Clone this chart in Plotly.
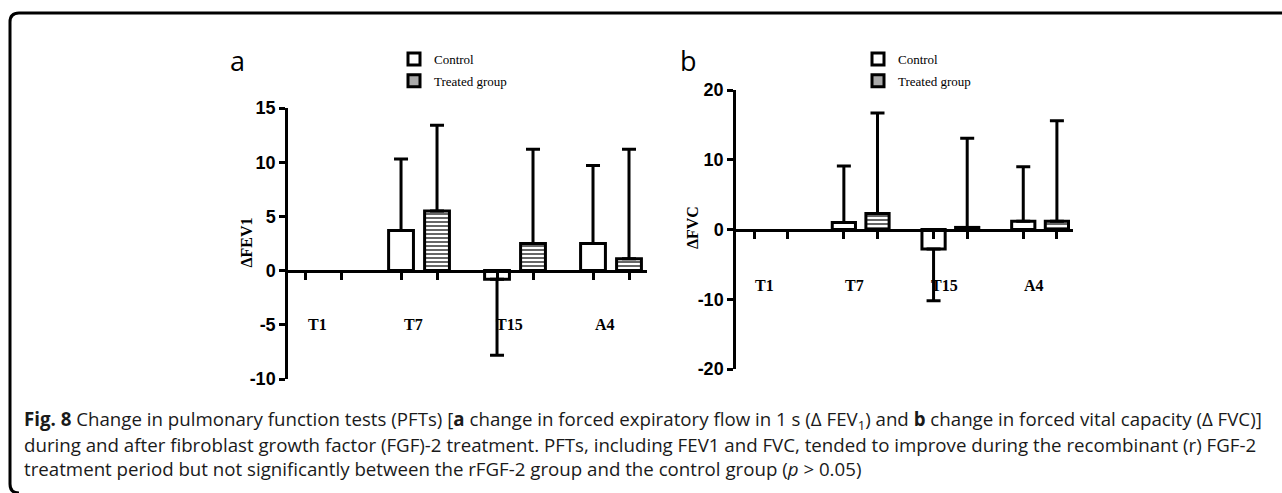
import math
import plotly.graph_objects as go

W, H = 1282, 493

# ---------------- data ----------------
categories = ["T1", "T7", "T15", "A4"]

# Panel a: change in FEV1 (T1 is the baseline: no bar)
fev_control = [None, 3.7, -0.8, 2.5]
fev_control_err = [math.nan, 6.6, 7.0, 7.2]
fev_treated = [None, 5.5, 2.5, 1.1]
fev_treated_err = [math.nan, 7.9, 8.7, 10.1]

# Panel b: change in FVC
fvc_control = [None, 1.0, -2.8, 1.2]
fvc_control_err = [math.nan, 8.1, 7.4, 7.8]
fvc_treated = [None, 2.3, 0.3, 1.2]
fvc_treated_err = [math.nan, 14.4, 12.8, 14.4]

fev_ticks = [-10, -5, 0, 5, 10, 15]
fvc_ticks = [-20, -10, 0, 10, 20]

series_names = ["Control", "Treated group"]
axis_titles = ["ΔFEV1", "ΔFVC"]
panel_letters = ["a", "b"]

caption_lines = [
    "<b>Fig. 8</b> Change in pulmonary function tests (PFTs) [<b>a</b> change in forced expiratory flow in 1 s (Δ FEV<sub>1</sub>) and <b>b</b> change in forced vital capacity (Δ FVC)]",
    "during and after fibroblast growth factor (FGF)-2 treatment. PFTs, including FEV1 and FVC, tended to improve during the recombinant (r) FGF-2",
    "treatment period but not significantly between the rFGF-2 group and the control group (<i>p</i> > 0.05)",
]


# ---------------- helpers ----------------
def px(p):
    return p / W


def py(p):
    return 1 - p / H


def one_sided(values, errs):
    up, down = [], []
    for v, e in zip(values, errs):
        if v is None or math.isnan(e):
            up.append(math.nan)
            down.append(math.nan)
        elif v < 0:
            up.append(0)
            down.append(e)
        else:
            up.append(e)
            down.append(0)
    return up, down


BAR_LINE = dict(color="black", width=3)
PATTERN = dict(shape="-", size=4, solidity=0.45, fgcolor="#555555", bgcolor="white")
ERR_STYLE = dict(color="black", thickness=3, width=7)

fig = go.Figure()

x_idx = list(range(len(categories)))


def add_bars(xa, ya, ctrl, ctrl_err, trt, trt_err):
    up, dn = one_sided(ctrl, ctrl_err)
    fig.add_trace(go.Bar(
        x=x_idx, y=ctrl, name=series_names[0], showlegend=False,
        marker=dict(color="white", line=BAR_LINE),
        error_y=dict(type="data", symmetric=False, array=up, arrayminus=dn, **ERR_STYLE),
        xaxis=xa, yaxis=ya,
    ))
    up, dn = one_sided(trt, trt_err)
    fig.add_trace(go.Bar(
        x=x_idx, y=trt, name=series_names[1], showlegend=False,
        marker=dict(color="white", line=BAR_LINE, pattern=PATTERN),
        error_y=dict(type="data", symmetric=False, array=up, arrayminus=dn, **ERR_STYLE),
        xaxis=xa, yaxis=ya,
    ))


add_bars("x", "y", fev_control, fev_control_err, fev_treated, fev_treated_err)
add_bars("x2", "y2", fvc_control, fvc_control_err, fvc_treated, fvc_treated_err)

# legend-only entries on a hidden subplot
for lg in ["legend", "legend2"]:
    fig.add_trace(go.Bar(x=[None], y=[None], name=series_names[0], legend=lg,
                         legendgroup=lg + "c",
                         marker=dict(color="white", line=dict(color="black", width=3)),
                         xaxis="x3", yaxis="y3"))
    fig.add_trace(go.Bar(x=[None], y=[None], name=series_names[1], legend=lg,
                         legendgroup=lg + "t",
                         marker=dict(color="#aaaaaa", line=dict(color="black", width=3)),
                         xaxis="x3", yaxis="y3"))

BAR_OFF = 0.1875
tickpos = [i + s * BAR_OFF for i in x_idx for s in (-1, 1)]

TICKFONT = dict(family="Liberation Sans, Arial", size=18, color="black")
SERIF_B = dict(family="Liberation Serif, Times New Roman", size=16, color="black")


def xaxis_cfg(dom, rng, pos):
    return dict(domain=dom, range=rng, anchor="free", position=pos,
                showline=True, linecolor="black", linewidth=2.5,
                ticks="outside", ticklen=8, tickwidth=2.5, tickcolor="black",
                tickvals=tickpos, showticklabels=False, showgrid=False,
                zeroline=False, fixedrange=True, automargin=False)


def yaxis_cfg(dom, rng, ticks, anchor):
    return dict(domain=dom, range=rng, anchor=anchor,
                showline=True, linecolor="black", linewidth=2.5,
                ticks="outside", ticklen=6, tickwidth=2.5, tickcolor="black",
                tickvals=ticks, ticktext=[f"<b>{t}</b>" for t in ticks],
                tickfont=TICKFONT, showgrid=False, zeroline=False,
                fixedrange=True, automargin=False)


ya_dom = [py(379), py(108)]
yb_dom = [py(369), py(90)]
ya_rng = [-10, 15]
yb_rng = [-20, 20]
zero_a = ya_dom[0] + (0 - ya_rng[0]) / (ya_rng[1] - ya_rng[0]) * (ya_dom[1] - ya_dom[0])
zero_b = yb_dom[0] + (0 - yb_rng[0]) / (yb_rng[1] - yb_rng[0]) * (yb_dom[1] - yb_dom[0])

LEG_FONT = dict(family="Liberation Serif, Times New Roman", size=13, color="black")

fig.update_layout(
    template="none",
    width=W, height=H, autosize=False,
    margin=dict(l=0, r=0, t=0, b=0, pad=0),
    paper_bgcolor="white", plot_bgcolor="rgba(0,0,0,0)",
    barmode="group", bargap=0.25, bargroupgap=0.31,
    xaxis=xaxis_cfg([px(288), px(647)], [-0.365, 3.375], zero_a),
    yaxis=yaxis_cfg(ya_dom, ya_rng, fev_ticks, "x"),
    xaxis2=xaxis_cfg([px(736), px(1073)], [-0.39, 3.367], zero_b),
    yaxis2=yaxis_cfg(yb_dom, yb_rng, fvc_ticks, "x2"),
    xaxis3=dict(domain=[0, 0.01], visible=False, anchor="y3"),
    yaxis3=dict(domain=[0, 0.01], visible=False, anchor="x3"),
    legend=dict(x=px(394), y=py(44), xanchor="left", yanchor="top", font=LEG_FONT,
                bgcolor="rgba(0,0,0,0)", tracegroupgap=2, traceorder="grouped"),
    legend2=dict(x=px(858), y=py(44), xanchor="left", yanchor="top", font=LEG_FONT,
                 bgcolor="rgba(0,0,0,0)", tracegroupgap=2, traceorder="grouped"),
    showlegend=True,
)

annotations = []
# category labels
for xr, yr, yv in [("x", "y", -5), ("x2", "y2", -8)]:
    for i, c in enumerate(categories):
        annotations.append(dict(x=i, y=yv, xref=xr, yref=yr, text=f"<b>{c}</b>",
                                showarrow=False, xshift=-6, font=SERIF_B))
# y-axis titles
for title, (xp, yp) in zip(axis_titles, [(235, 243), (692, 228)]):
    annotations.append(dict(x=px(xp), y=py(yp), xref="paper", yref="paper",
                            text=f"<b>{title}</b>", textangle=-90, showarrow=False,
                            font=dict(family="Liberation Serif, Times New Roman", size=16,
                                      color="black")))
# panel letters
for letter, xp in zip(panel_letters, [228, 689]):
    annotations.append(dict(x=px(xp), y=py(40), xref="paper", yref="paper", text=letter,
                            showarrow=False, font=dict(family="Open Sans", size=27, color="black")))
# caption
for k, line in enumerate(caption_lines):
    annotations.append(dict(x=px(22), y=py(420 + 24 * k), xref="paper", yref="paper",
                            xanchor="left", yanchor="middle", align="left", text=line,
                            showarrow=False, font=dict(family="Open Sans", size=18.7, color="#1a1a1a")))
fig.update_layout(annotations=annotations)

# rounded frame (top and left edges)
r = 9
path = (f"M {px(W)},{py(13)} L {px(10 + r)},{py(13)} "
        f"Q {px(10)},{py(13)} {px(10)},{py(13 + r)} "
        f"L {px(10)},{py(H - r)} Q {px(10)},{py(H)} {px(10 + r)},{py(H)}")
fig.add_shape(type="path", path=path, xref="paper", yref="paper",
              line=dict(color="black", width=3))

fig.write_html("out.html", config={"responsive": False, "displayModeBar": False},
               post_script="document.body.style.margin='0';document.body.style.overflow='hidden';")
